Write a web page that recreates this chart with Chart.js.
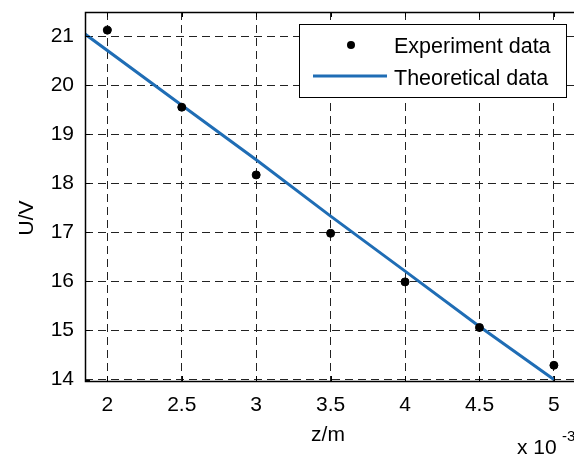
<!DOCTYPE html>
<html>
<head>
<meta charset="utf-8">
<script src="https://cdn.jsdelivr.net/npm/chart.js@4.4.1/dist/chart.umd.min.js"></script>
<style>
html, body { margin: 0; padding: 0; background: #fff; overflow: hidden; }
</style>
</head>
<body>
<canvas id="Chart" width="630" height="456"></canvas>
<script>
// values (z in units of 1e-3 m)
const zExp = [2, 2.5, 3, 3.5, 4, 4.5, 5];
const uExp = [21.12, 19.55, 18.17, 16.98, 15.99, 15.06, 14.29];
const zTheory = [1.85, 2.5, 3, 3.5, 4, 4.5, 5];
const uTheory = [21.04, 19.59, 18.48, 17.33, 16.21, 15.08, 14.0];
const xTicks = [2, 2.5, 3, 3.5, 4, 4.5, 5];
const yTicks = [14, 15, 16, 17, 18, 19, 20, 21];

const fontFamily = '"Liberation Sans", Arial, Helvetica, sans-serif';
Chart.defaults.font.family = fontFamily;
Chart.defaults.font.size = 21;
Chart.defaults.color = '#000';

let graph = document.getElementById('Chart');

// axes box, inward ticks, legend and axis titles
const frame = {
    id: 'frame',
    afterDraw(chart) {
        const ctx = chart.ctx;
        const a = chart.chartArea;
        const x = chart.scales.x, y = chart.scales.y;
        ctx.save();
        ctx.strokeStyle = '#000';
        ctx.lineWidth = 1;
        ctx.setLineDash([]);
        ctx.beginPath();
        x.ticks.forEach(t => {
            const px = Math.round(x.getPixelForValue(t.value)) + 0.5;
            ctx.moveTo(px, a.bottom); ctx.lineTo(px, a.bottom - 5);
            ctx.moveTo(px, a.top); ctx.lineTo(px, a.top + 5);
        });
        y.ticks.forEach(t => {
            const py = Math.round(y.getPixelForValue(t.value)) + 0.5;
            ctx.moveTo(a.left, py); ctx.lineTo(a.left + 5, py);
        });
        ctx.stroke();
        ctx.lineWidth = 1.5;
        ctx.strokeRect(Math.round(a.left) + 0.5, Math.round(a.top) + 0.5,
            Math.round(a.right - a.left), Math.round(a.bottom - a.top));

        // legend
        const ds = chart.data.datasets;
        ctx.fillStyle = '#fff';
        ctx.fillRect(299, 24, 267, 73);
        ctx.lineWidth = 1;
        ctx.strokeStyle = '#000';
        ctx.strokeRect(299.5, 24.5, 267, 73);
        ctx.fillStyle = '#000';
        ctx.beginPath();
        ctx.arc(351, 45, 4, 0, Math.PI * 2);
        ctx.fill();
        ctx.strokeStyle = ds[1].borderColor;
        ctx.lineWidth = ds[1].borderWidth;
        ctx.beginPath();
        ctx.moveTo(313, 76); ctx.lineTo(387, 76);
        ctx.stroke();
        ctx.font = '21.5px ' + fontFamily;
        ctx.textAlign = 'left';
        ctx.textBaseline = 'alphabetic';
        ctx.fillText(ds[0].label, 394, 53);
        ctx.fillText(ds[1].label, 394, 85);

        // axis titles
        ctx.font = '21px ' + fontFamily;
        ctx.textAlign = 'center';
        ctx.fillText('z/m', 328, 441);
        ctx.save();
        ctx.translate(33, 218);
        ctx.rotate(-Math.PI / 2);
        ctx.fillText('U/V', 0, 0);
        ctx.restore();
        ctx.textAlign = 'left';
        ctx.fillText('x 10', 517, 454);
        ctx.font = '15px ' + fontFamily;
        ctx.fillText('-3', 562, 441);
        ctx.restore();
    }
};

let chartdtl = {
    type: 'scatter',
    data: {
        datasets: [{
            label: 'Experiment data',
            data: zExp.map((z, i) => ({x: z, y: uExp[i]})),
            backgroundColor: '#000',
            borderColor: '#000',
            pointRadius: 4,
            pointHoverRadius: 4,
            showLine: false,
            order: 0,
        }, {
            label: 'Theoretical data',
            type: 'line',
            data: zTheory.map((z, i) => ({x: z, y: uTheory[i]})),
            borderColor: '#1f6db5',
            borderWidth: 3,
            pointRadius: 0,
            tension: 0,
            fill: false,
            order: 1,
        }],
    },
    options: {
        responsive: false,
        animation: false,
        events: [],
        layout: { padding: { top: 12, right: 24, left: 0, bottom: 0 } },
        plugins: { legend: { display: false }, tooltip: { enabled: false } },
        scales: {
            x: {
                type: 'linear',
                position: 'bottom',
                min: 1.85,
                max: 5.35,
                afterBuildTicks: s => { s.ticks = xTicks.map(v => ({value: v})); },
                afterFit: s => { s.height = 75; s.paddingLeft = 0; s.paddingRight = 0; },
                ticks: { padding: 12, maxRotation: 0, autoSkip: false, callback: v => String(v) },
                grid: { color: '#222', lineWidth: 1, drawTicks: false },
                border: { display: false, dash: [8, 5] },
            },
            y: {
                type: 'linear',
                min: 13.97,
                max: 21.49,
                afterBuildTicks: s => { s.ticks = yTicks.map(v => ({value: v})); },
                afterFit: s => { s.width = 85; s.paddingTop = 0; s.paddingBottom = 0; },
                ticks: { padding: 11, autoSkip: false, callback: v => String(v) },
                grid: { color: '#222', lineWidth: 1, drawTicks: false },
                border: { display: false, dash: [8, 5] },
            },
        },
    },
    plugins: [frame],
};

let presentdata = new Chart(graph, chartdtl);
</script>
</body>
</html>
